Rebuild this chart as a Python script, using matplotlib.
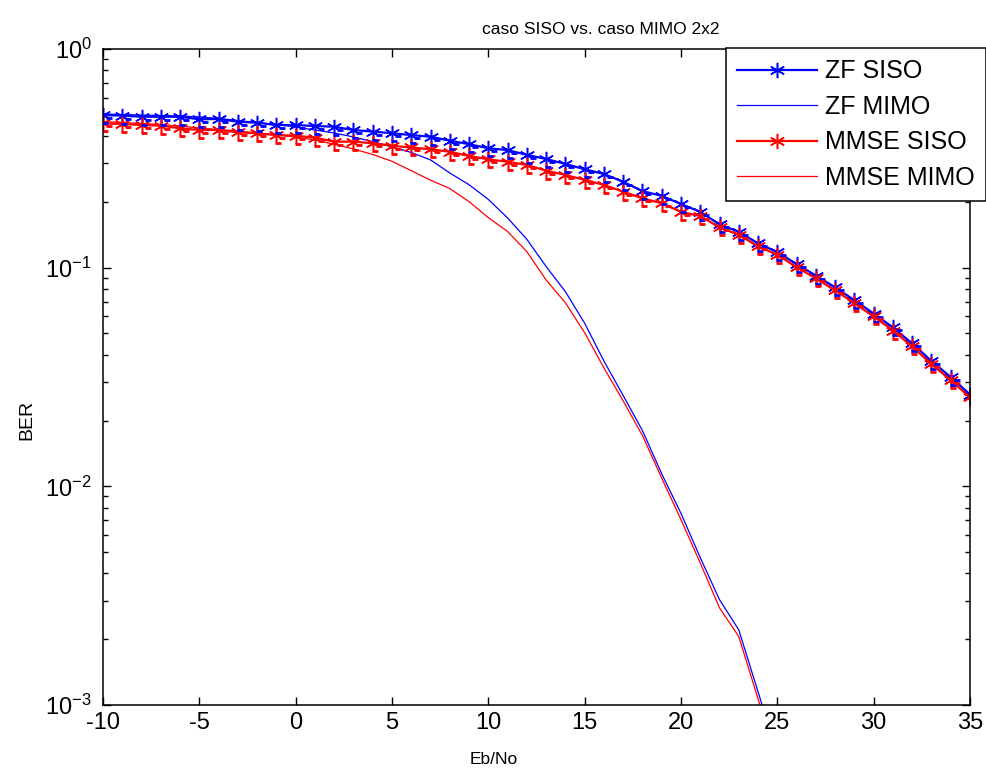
import matplotlib
matplotlib.use("Agg")
import matplotlib.pyplot as plt
import matplotlib.transforms as mtransforms
import numpy as np

plt.rcParams['font.family'] = ['Liberation Sans', 'DejaVu Sans']
plt.rcParams['mathtext.fontset'] = 'custom'
plt.rcParams['mathtext.rm'] = 'Liberation Sans'
plt.rcParams['axes.unicode_minus'] = False

# Eb/No axis (dB)
ebno = np.arange(-10, 36)

# BER
zf_siso = [0.499, 0.4955, 0.490, 0.490, 0.490, 0.477, 0.4786, 0.465, 0.460, 0.449,
           0.449, 0.4445, 0.441, 0.426, 0.419, 0.412, 0.404, 0.397, 0.381, 0.367,
           0.3516, 0.345, 0.328, 0.314, 0.298, 0.282, 0.268, 0.247, 0.224, 0.213,
           0.1955, 0.180, 0.1576, 0.146, 0.129, 0.118, 0.1038, 0.092, 0.0812, 0.0710,
           0.0617, 0.0533, 0.0450, 0.0374, 0.0316, 0.0263]
mmse_siso = [0.457, 0.454, 0.449, 0.446, 0.434, 0.426, 0.426, 0.416, 0.4115, 0.404,
             0.4014, 0.393, 0.377, 0.377, 0.3707, 0.361, 0.3545, 0.3478, 0.339, 0.324,
             0.313, 0.305, 0.295, 0.2777, 0.2654, 0.252, 0.239, 0.2226, 0.2075, 0.197,
             0.180, 0.1723, 0.1527, 0.1414, 0.125, 0.1146, 0.1005, 0.0893, 0.0787, 0.0688,
             0.0598, 0.0516, 0.0436, 0.0362, 0.0306, 0.0255]

ebno_mimo = np.arange(-10, 26)
zf_mimo = [0.5045, 0.5018, 0.499, 0.4966, 0.494, 0.489, 0.481, 0.471, 0.461, 0.4515,
           0.4398, 0.426, 0.413, 0.396, 0.377, 0.357, 0.3363, 0.311, 0.271, 0.2395,
           0.2052, 0.1688, 0.1348, 0.1012, 0.0777, 0.0557, 0.0374, 0.0260, 0.01798, 0.0114,
           0.00752, 0.00472, 0.00303, 0.002205, 0.001148, 0.000597]
mmse_mimo = [0.4661, 0.4612, 0.4564, 0.4516, 0.4445, 0.4352, 0.4283, 0.4217, 0.4129, 0.4043,
             0.3959, 0.3836, 0.3666, 0.3489, 0.3293, 0.3065, 0.2777, 0.2512, 0.2301, 0.2003,
             0.1693, 0.1464, 0.1183, 0.0878, 0.0691, 0.0504, 0.0348, 0.02457, 0.01707, 0.0109,
             0.00704, 0.00446, 0.00278, 0.002055, 0.001066, 0.000561]

fig = plt.figure(figsize=(9.87, 7.74), dpi=100)
ax = fig.add_axes([103/987, 1 - 705/774, (970 - 103)/987, (705 - 49)/774])

ast = (6, 2, 0)  # matlab-like asterisk
ax.semilogy(ebno, zf_siso, '-', marker=ast, color='b', lw=1.6, ms=11, mew=1.1, label='ZF SISO')
ax.semilogy(ebno_mimo, zf_mimo, '-', color='b', lw=0.9, label='ZF MIMO')
ax.semilogy(ebno, mmse_siso, '-', marker=ast, color='r', lw=1.6, ms=11, mew=1.1, label='MMSE SISO')
ax.semilogy(ebno_mimo, mmse_mimo, '-', color='r', lw=0.9, label='MMSE MIMO')

# little dash artefacts next to each asterisk, as in the original export
for yv, c in [(zf_siso, 'b'), (mmse_siso, 'r')]:
    for dx, dy in [(6, -3), (2, -8)]:
        tr = mtransforms.offset_copy(ax.transData, fig=fig, x=dx, y=dy, units='dots')
        ax.plot(ebno, yv, ls='none', marker='_', color=c, ms=5, mew=2.0, transform=tr)

ax.set_xlim(-10, 35)
ax.set_ylim(1e-3, 1)
ax.set_xticks(np.arange(-10, 36, 5))

ax.tick_params(which='both', direction='in', top=True, right=True, labelsize=17, width=1.0)
ax.tick_params(which='major', length=6)
ax.tick_params(which='minor', length=3.5)
ax.tick_params(axis='x', pad=5)
ax.tick_params(axis='y', pad=8)
for s in ax.spines.values():
    s.set_linewidth(1.1)

leg = ax.legend(loc='upper right', bbox_to_anchor=(986/987, 1 - 48/774),
                bbox_transform=fig.transFigure, borderaxespad=0, fontsize=18,
                fancybox=False, framealpha=1, edgecolor='k', handlelength=3.2,
                handletextpad=0.3, labelspacing=0.46, borderpad=0.45)
leg.get_frame().set_linewidth(1.1)

fig.text(601/987, 1 - 30/774, 'caso SISO vs. caso MIMO 2x2', ha='center', va='center', fontsize=12.5)
fig.text(494/987, 1 - 760/774, 'Eb/No', ha='center', va='center', fontsize=12.5)
fig.text(27/987, 1 - 420/774, 'BER', ha='center', va='center', rotation=90, fontsize=14)

fig.savefig('out.png', dpi=100)
